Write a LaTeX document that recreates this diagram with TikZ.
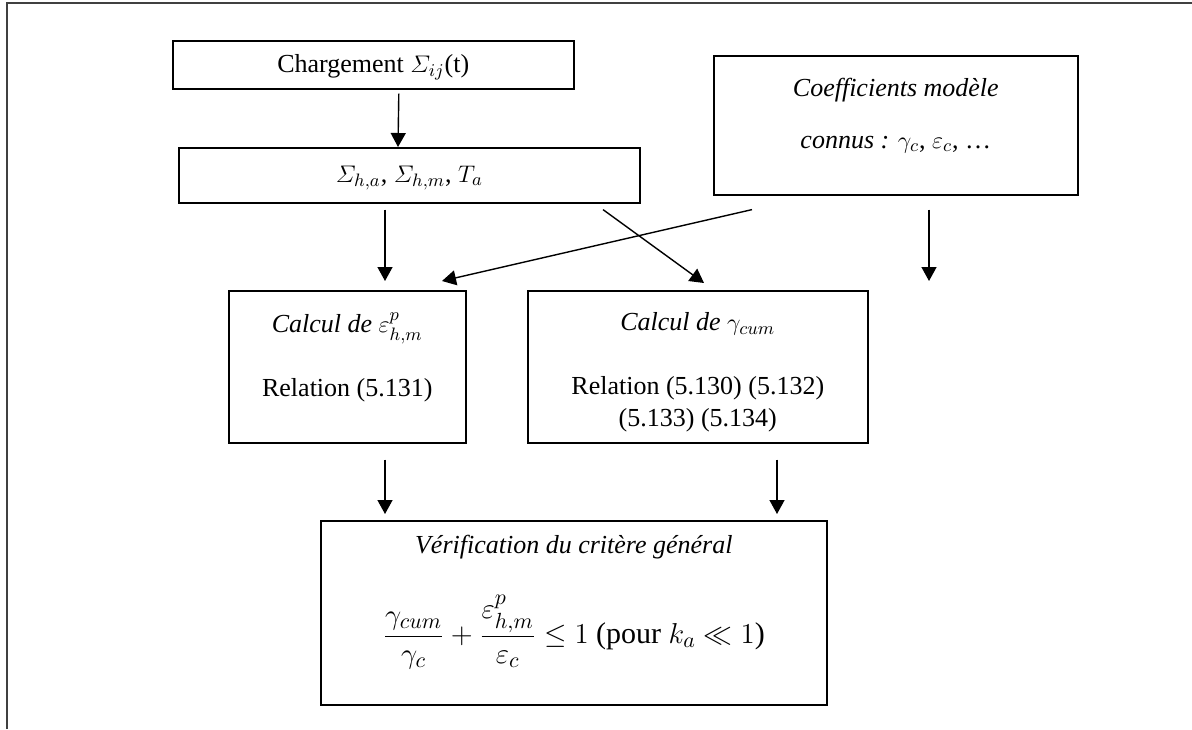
\documentclass[tikz,border=0pt]{standalone}
\usepackage{amsmath}
\usepackage{fontspec}
\setmainfont{Liberation Serif}
\usetikzlibrary{arrows.meta, positioning, calc}

% boxes are drawn from their top left corner, text hangs from the top
\tikzset{
  boite/.style={draw, line width=0.8pt, inner sep=0pt, anchor=north west},
  fleche/.style={-{Triangle[length=7pt,width=7.5pt]}, line width=0.7pt},
  cadre/.style={line width=1.4pt, black!75},
}
\newcommand{\contenu}[3]{\parbox[c][#2][t]{#1}{\centering #3}}

\begin{document}
\begin{tikzpicture}[x=0.5pt, y=-0.5pt, font=\fontsize{13}{16}\selectfont]
  \useasboundingbox (0,0) rectangle (1192,729);
  \draw[cadre] (7,729) -- (7,3) -- (1192,3);

  % top row
  \node[boite] (charge) at (172,40)
    {\contenu{200.5pt}{24pt}{\vspace*{7pt}Chargement $\varSigma_{ij}$(t)}};
  \node[boite] (sigma) at (178,147)
    {\contenu{230.5pt}{27.5pt}{\vspace*{9pt}$\varSigma_{h,a}$, $\varSigma_{h,m}$, $T_a$}};
  \node[boite] (coef) at (713,55)
    {\contenu{182pt}{69.5pt}{\vspace*{11pt}\textit{Coefficients modèle}\\[10pt]
      \textit{connus :} $\gamma_c$, $\varepsilon_c$, \dots}};

  % calculation boxes
  \node[boite] (calcE) at (228,290)
    {\contenu{118.5pt}{76pt}{\vspace*{11pt}\textit{Calcul de} $\varepsilon^p_{h,m}$\\[16pt]
      Relation (5.131)}};
  \node[boite] (calcG) at (527,290)
    {\contenu{170pt}{76pt}{\vspace*{11pt}\textit{Calcul de} $\gamma_{cum}$\\[16pt]
      Relation (5.130) (5.132)\\ (5.133) (5.134)}};

  % criterion
  \node[boite] (verif) at (320,520)
    {\contenu{253pt}{92pt}{\vspace*{7pt}\textit{Vérification du critère général}\\[17pt]
      {\fontsize{15}{18}\selectfont$\dfrac{\gamma_{cum}}{\gamma_c}+\dfrac{\varepsilon^p_{h,m}}{\varepsilon_c}\leq 1$ (pour $k_a\ll 1$)}}};

  % arrows
  \draw[fleche] ($(charge.south)+(25.5,4)$) -- (sigma.north -| 398,0);
  \draw[fleche] ($(sigma.south -| 385,0)+(0,6)$) -- ($(calcE.north -| 385,0)+(0,-9)$);
  \draw[fleche] ($(sigma.south -| 603,0)+(0,6)$) -- ($(calcG.north -| 704,0)+(0,-7)$);
  \draw[fleche] ($(coef.south -| 752,0)+(0,14)$) -- ($(calcE.north -| 442,0)+(0,-9)$);
  \draw[fleche] ($(coef.south -| 929,0)+(0,14)$) -- ($(calcG.north -| 929,0)+(0,-9)$);
  \draw[fleche] ($(calcE.south -| 385,0)+(0,16)$) -- ($(verif.north -| 385,0)+(0,-6)$);
  \draw[fleche] ($(calcG.south -| 777,0)+(0,16)$) -- ($(verif.north -| 777,0)+(0,-6)$);
\end{tikzpicture}
\end{document}
